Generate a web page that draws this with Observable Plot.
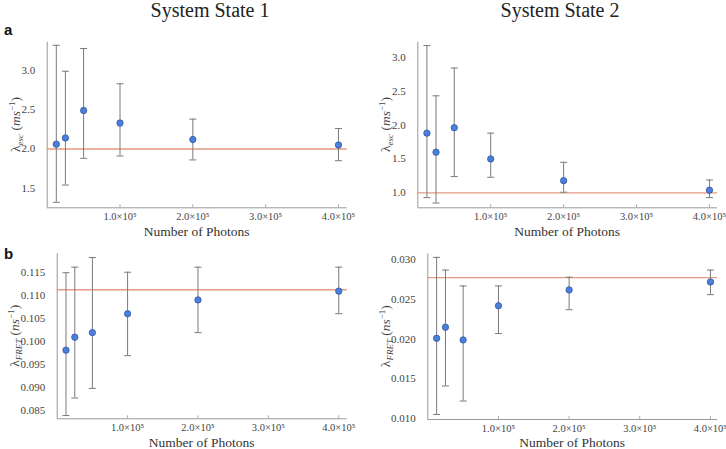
<!DOCTYPE html>
<html><head><meta charset="utf-8">
<script src="https://cdn.jsdelivr.net/npm/d3@7"></script>
<script src="https://cdn.jsdelivr.net/npm/@observablehq/plot@0.6"></script>
<style>
body{margin:0;background:#fff;}
#root{position:relative;width:726px;height:449px;overflow:hidden;font-family:"Liberation Serif","DejaVu Serif",serif;}
.t{position:absolute;white-space:nowrap;line-height:1;}
</style></head><body><div id="root"></div>
<script>
const photons = [12500, 25000, 50000, 100000, 200000, 400000];
const xTicks = [100000, 200000, 300000, 400000];
const xTickLabels = ["1.0×10⁵", "2.0×10⁵", "3.0×10⁵", "4.0×10⁵"];

const esc1 = [2.06, 2.14, 2.49, 2.33, 2.12, 2.05];
const esc1Lo = [1.32, 1.54, 1.88, 1.91, 1.86, 1.85];
const esc1Hi = [3.32, 2.99, 3.28, 2.83, 2.38, 2.26];
const esc1True = 2.0;
const esc1Ticks = [1.5, 2.0, 2.5, 3.0];

const esc2 = [1.88, 1.60, 1.96, 1.50, 1.18, 1.04];
const esc2Lo = [0.93, 0.85, 1.24, 1.23, 1.01, 0.93];
const esc2Hi = [3.17, 2.43, 2.84, 1.88, 1.45, 1.19];
const esc2True = 1.0;
const esc2Ticks = [1.0, 1.5, 2.0, 2.5, 3.0];

const fret1 = [0.0982, 0.1010, 0.1020, 0.1061, 0.1091, 0.1110];
const fret1Lo = [0.0840, 0.0878, 0.0899, 0.0970, 0.1020, 0.1061];
const fret1Hi = [0.1150, 0.1162, 0.1183, 0.1151, 0.1162, 0.1162];
const fret1True = 0.1113;
const fret1Ticks = [0.085, 0.090, 0.095, 0.100, 0.105, 0.110, 0.115];

const fret2 = [0.0201, 0.0215, 0.0199, 0.0242, 0.0262, 0.0272];
const fret2Lo = [0.0105, 0.0141, 0.0122, 0.0207, 0.0237, 0.0256];
const fret2Hi = [0.0303, 0.0287, 0.0267, 0.0267, 0.0278, 0.0287];
const fret2True = 0.02775;
const fret2Ticks = [0.010, 0.015, 0.020, 0.025, 0.030];

const FONT = '"Liberation Serif", "DejaVu Serif", serif';
const capSymbol = {draw(ctx, size){ const w = Math.sqrt(size/Math.PI); ctx.moveTo(-w,0); ctx.lineTo(w,0); }};

const root = document.getElementById("root");

function panel(o){
  const data = photons.map((x,i)=>({x, y:o.v[i], lo:o.lo[i], hi:o.hi[i]}));
  const fmtMap = new Map(xTicks.map((t,i)=>[t, xTickLabels[i]]));
  const svg = Plot.plot({
    width: o.w, height: o.h,
    marginLeft: o.ml, marginRight: o.mr, marginTop: o.mt, marginBottom: o.mb,
    style: {background:"transparent", overflow:"visible", fontFamily: FONT, fontSize:"11px", color:"#444"},
    x: {domain: o.xd},
    y: {domain: o.yd},
    marks: [
      Plot.axisX(xTicks, {tickSize: 0, tickPadding: 5, tickFormat: d=>fmtMap.get(d), label: null, fontSize: 10.5, fontFamily: FONT}),
      Plot.axisY(o.yt, {tickSize: 0, tickPadding: 12, tickFormat: o.fmt, label: null, fontSize: 11, fontFamily: FONT}),
      Plot.tickX(xTicks, {x: d=>d, stroke:"#aaa", insetTop: o.h - o.mt - o.mb - 3}),
      Plot.ruleX([o.xd[0]], {stroke:"#999", strokeWidth:1}),
      Plot.ruleY([o.yd[0]], {stroke:"#999", strokeWidth:1}),
      Plot.ruleY([o.ref], {stroke:"#e39a80", strokeWidth:1.4}),
      Plot.ruleX(data, {x:"x", y1:"lo", y2:"hi", stroke:"#7a7a7a", strokeWidth:1}),
      Plot.dot(data, {x:"x", y:"lo", symbol: capSymbol, r:3.5, stroke:"#7a7a7a", strokeWidth:1}),
      Plot.dot(data, {x:"x", y:"hi", symbol: capSymbol, r:3.5, stroke:"#7a7a7a", strokeWidth:1}),
      Plot.dot(data, {x:"x", y:"y", r:3.2, fill:"#4a7fe0", stroke:"#2d4f8f", strokeWidth:0.7})
    ]
  });
  svg.style.position = "absolute";
  svg.style.left = o.left + "px";
  svg.style.top = o.top + "px";
  const s = d3.select(svg);
  const cy = o.mt + (o.h - o.mt - o.mb)/2;
  const t = s.append("text")
    .attr("transform", `translate(${o.ylx},${cy}) rotate(-90)`)
    .attr("text-anchor","middle").attr("fill","#444")
    .style("font-family", FONT).style("font-size","13.5px");
  t.append("tspan").text("λ");
  t.append("tspan").attr("font-style","italic").attr("font-size","9px").attr("dy","3").text(o.sub);
  t.append("tspan").attr("dy","-3").text(" (");
  t.append("tspan").attr("font-style","italic").text(o.unit);
  t.append("tspan").attr("font-size","9px").attr("dy","-5").text("−1");
  t.append("tspan").attr("dy","5").text(")");
  s.append("text")
    .attr("x", o.ml + (o.w - o.ml - o.mr)/2).attr("y", o.h - o.mb + o.xly)
    .attr("text-anchor","middle").attr("fill","#333")
    .style("font-family", FONT).style("font-size","13.5px")
    .text("Number of Photons");
  root.appendChild(svg);
}

panel({left:0, top:0, w:363, h:236, ml:46.7, mr:16.3, mt:41.7, mb:28.7, xd:[0,412000], yd:[1.25,3.36],
  v:esc1, lo:esc1Lo, hi:esc1Hi, ref:esc1True, yt:esc1Ticks, fmt:d3.format(".1f"), sub:"esc", unit:"ms", ylx:20, xly:29});
panel({left:363, top:0, w:363, h:236, ml:54.3, mr:9, mt:41.7, mb:28.7, xd:[0,411000], yd:[0.78,3.22],
  v:esc2, lo:esc2Lo, hi:esc2Hi, ref:esc2True, yt:esc2Ticks, fmt:d3.format(".1f"), sub:"esc", unit:"ms", ylx:27, xly:29});
panel({left:0, top:236, w:363, h:213, ml:56.7, mr:16.3, mt:17.3, mb:30.7, xd:[0,412000], yd:[0.0833,0.1191],
  v:fret1, lo:fret1Lo, hi:fret1Hi, ref:fret1True, yt:fret1Ticks, fmt:d3.format(".3f"), sub:"FRET", unit:"ns", ylx:19, xly:28.5});
panel({left:363, top:236, w:363, h:213, ml:64.3, mr:9, mt:17.3, mb:30, xd:[0,410000], yd:[0.00987,0.03075],
  v:fret2, lo:fret2Lo, hi:fret2Hi, ref:fret2True, yt:fret2Ticks, fmt:d3.format(".3f"), sub:"FRET", unit:"ns", ylx:27, xly:28});

function label(txt, x, y, css){
  const d = document.createElement("div");
  d.className = "t"; d.textContent = txt;
  d.style.left = x + "px"; d.style.top = y + "px";
  Object.assign(d.style, css);
  root.appendChild(d);
}
label("System State 1", 210, 0, {transform:"translateX(-50%)", fontSize:"20px", color:"#222"});
label("System State 2", 560, 0, {transform:"translateX(-50%)", fontSize:"20px", color:"#222"});
label("a", 4, 22, {fontFamily:"Liberation Sans, Arial, sans-serif", fontWeight:"bold", fontSize:"15px", color:"#111"});
label("b", 4, 246, {fontFamily:"Liberation Sans, Arial, sans-serif", fontWeight:"bold", fontSize:"15px", color:"#111"});
</script></body></html>
